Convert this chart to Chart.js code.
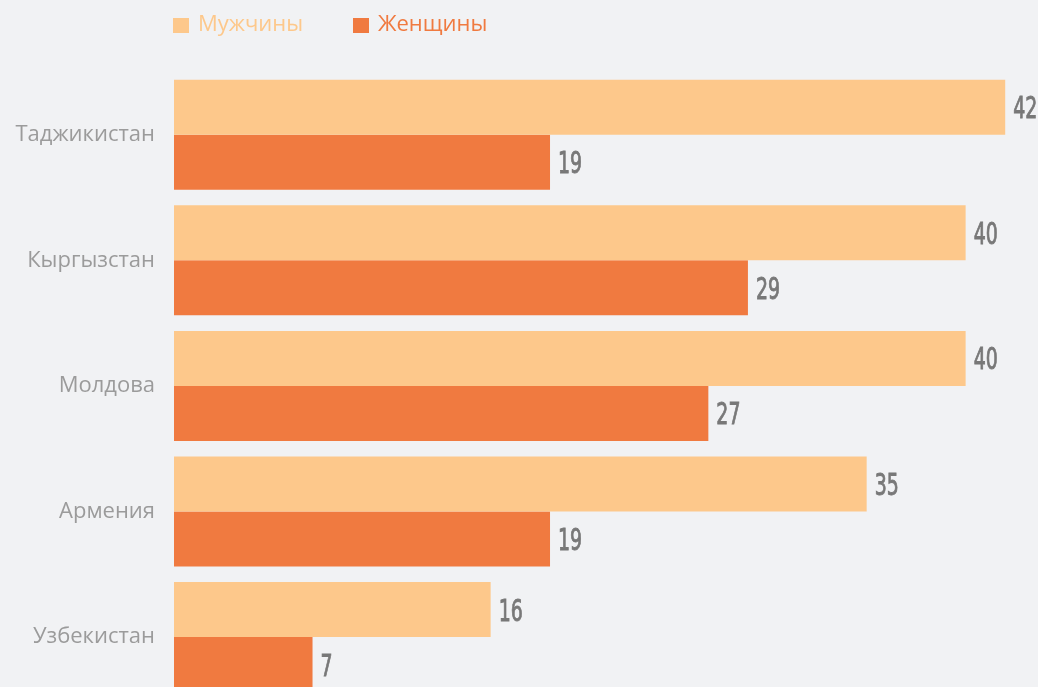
<!DOCTYPE html>
<html lang="ru">
<head>
<meta charset="utf-8">
<script src="https://cdn.jsdelivr.net/npm/chart.js@4/dist/chart.umd.min.js"></script>
<style>
  html, body { margin: 0; padding: 0; background: #f1f2f4; overflow: hidden; }
  #wrap { width: 1038px; height: 732px; position: relative; }
</style>
</head>
<body>
<div id="wrap"><canvas id="chart" width="1038" height="732"></canvas></div>
<script>
const countries = ['Таджикистан', 'Кыргызстан', 'Молдова', 'Армения', 'Узбекистан'];
const men = [42, 40, 40, 35, 16];
const women = [19, 29, 27, 19, 7];
const seriesNames = ['Мужчины', 'Женщины'];
const colors = ['#fdc88b', '#f07a40'];

// Legend drawn at the top-left, above the bars
const legendPlugin = {
  id: 'topLegend',
  afterDraw(chart) {
    const ctx = chart.ctx;
    ctx.save();
    ctx.font = '500 22px "Open Sans", sans-serif';
    ctx.textBaseline = 'middle';
    const items = [{ box: 173, text: 198 }, { box: 353, text: 378 }];
    chart.data.datasets.forEach((ds, i) => {
      ctx.fillStyle = ds.backgroundColor;
      ctx.fillRect(items[i].box, 18, 16, 15);
      ctx.fillText(ds.label, items[i].text, 25);
    });
    ctx.restore();
  }
};

// Value labels at the end of each bar, in a condensed face
const valuePlugin = {
  id: 'barValues',
  afterDatasetsDraw(chart) {
    const ctx = chart.ctx;
    ctx.save();
    ctx.fillStyle = '#787878';
    ctx.strokeStyle = '#787878';
    ctx.lineWidth = 0.9;
    ctx.textBaseline = 'middle';
    ctx.font = '31px "Liberation Sans Narrow", "DejaVu Sans Condensed", sans-serif';
    chart.data.datasets.forEach((ds, di) => {
      chart.getDatasetMeta(di).data.forEach((bar, i) => {
        const txt = String(ds.data[i]);
        ctx.save();
        ctx.translate(bar.x + 8, bar.y + 3);
        ctx.scale(0.68, 1);
        ctx.fillText(txt, 0, 0);
        ctx.strokeText(txt, 0, 0);
        ctx.restore();
      });
    });
    ctx.restore();
  }
};

new Chart(document.getElementById('chart'), {
  type: 'bar',
  data: {
    labels: countries,
    datasets: [
      { label: seriesNames[0], data: men, backgroundColor: colors[0] },
      { label: seriesNames[1], data: women, backgroundColor: colors[1] }
    ]
  },
  options: {
    indexAxis: 'y',
    responsive: false,
    animation: false,
    layout: { padding: { top: 72, right: 13, bottom: 0, left: 0 } },
    datasets: { bar: { categoryPercentage: 0.876, barPercentage: 1, borderWidth: 0 } },
    plugins: { legend: { display: false }, tooltip: { enabled: false } },
    scales: {
      x: { min: 0, max: 43, display: false, grid: { display: false } },
      y: {
        grid: { display: false, drawTicks: false },
        border: { display: false },
        ticks: {
          color: '#9b9b9b',
          padding: 19,
          font: { family: '"Open Sans", sans-serif', size: 22 }
        },
        afterFit(scale) { scale.width = 174; }
      }
    }
  },
  plugins: [legendPlugin, valuePlugin]
});
</script>
</body>
</html>
